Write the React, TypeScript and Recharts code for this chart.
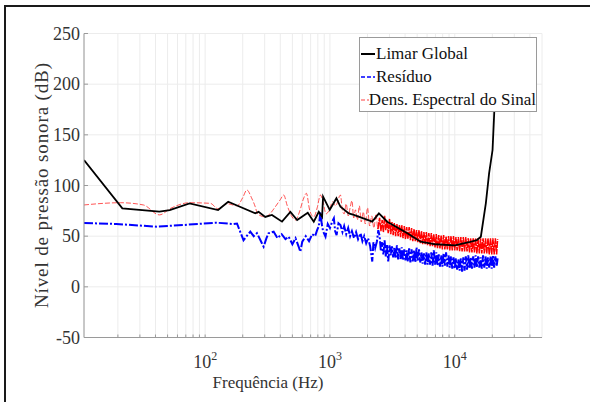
import React from 'react';
import { LineChart, Line, XAxis, YAxis, CartesianGrid } from 'recharts';

const FONT = '"Liberation Serif", "Times New Roman", serif';

// axis ticks (log x axis: only the decades get a label)
const xTicks = [20, 30, 40, 50, 60, 70, 80, 90, 100, 200, 300, 400, 500, 600, 700, 800, 900,
  1000, 2000, 3000, 4000, 5000, 6000, 7000, 8000, 9000, 10000, 20000, 30000, 40000];
const yTicks = [-50, 0, 50, 100, 150, 200, 250];
const decadeExp: Record<number, string> = { 100: '2', 1000: '3', 10000: '4' };

// Limar Global (black)
const limiarFreq = [10.7, 21.7, 43, 52, 75, 127, 153, 252, 268, 303, 343, 413, 482, 546, 664,
  742, 814, 865, 881, 996, 1127, 1214, 1416, 1552, 2183, 2467, 2879, 4168, 5330, 7000,
  10000, 13000, 15000, 16180, 17740, 18840, 20080, 20700, 22050];
const limiarDb = [125, 77.5, 74.2, 75.8, 82.4, 75.8, 84, 72.5, 74, 69, 71, 64.3, 74, 66, 73,
  64.3, 74, 69, 89, 76, 87.4, 79, 72.5, 71, 64.3, 72.5, 64.3, 52.8, 44.5, 42,
  41, 44, 46, 49.5, 82.4, 112, 135, 171, 236];

// Residuo (blue), low / mid frequencies
const residuoLowFreq = [10.7, 19.4, 40.6, 66.5, 123, 168, 180, 203, 215, 230, 245, 260, 280, 294, 310,
  322, 354, 380, 410, 440, 467, 500, 530, 560, 579, 600, 640, 680, 720, 760,
  789, 815, 839, 860, 880, 921, 960, 1000, 1040, 1075, 1100, 1130, 1170, 1214, 1260,
  1300, 1350, 1400, 1450, 1500, 1560, 1620, 1680, 1760, 1820, 1880, 1950, 2020, 2100, 2183,
  2230, 2300, 2380, 2440];
const residuoLowDb = [63, 62, 59.4, 61, 63.3, 62, 62.5, 46, 50, 54.4, 50, 53, 45, 39.6, 48,
  52.8, 54.4, 48, 52, 47, 49.5, 42, 48, 40, 34.7, 44.5, 50, 45, 52, 50,
  56, 60, 74, 62, 55, 49.5, 62, 58, 64, 67.6, 55, 51, 62.7, 61, 54,
  60, 52, 58, 50, 55, 48, 54, 47, 52.8, 45, 50, 43, 48, 40, 25,
  44, 38, 45, 56];

// Dens. Espectral do Sinal (red), low / mid frequencies
const densLowFreq = [10.7, 21, 32, 43, 53, 75, 110, 127, 150, 180, 200, 216, 235, 252, 262,
  280, 300, 330, 360, 400, 426, 455, 497, 530, 570, 610, 647, 690, 742, 790,
  839, 880, 930, 990, 1050, 1110, 1213, 1260, 1300, 1350, 1400, 1450, 1500, 1550, 1600,
  1660, 1720, 1780, 1850, 1920, 2000, 2080, 2160, 2250, 2340, 2420];
const densLowDb = [80.8, 83, 80.8, 71, 77.5, 83, 82.4, 77, 82, 80, 88, 95.6, 88, 79, 72.5,
  70, 69, 72, 78, 86, 90.6, 80, 69, 66, 74, 86, 92.3, 75, 69, 78,
  90.6, 84, 72, 76, 84, 80, 90.6, 75, 72, 82, 70, 78, 85, 68, 76,
  66, 80, 64, 74, 62, 78, 60, 70, 58, 72, 57];

// dense high-frequency part (both spectra swing fast between peaks and valleys)
const highFreq = [
  2500, 2560, 2620, 2680, 2740, 2800, 2860, 2930, 3000, 3070,
  3140, 3210, 3280, 3360, 3440, 3520, 3600, 3680, 3760, 3850,
  3940, 4030, 4120, 4210, 4310, 4410, 4510, 4610, 4720, 4830,
  4940, 5050, 5170, 5290, 5410, 5530, 5660, 5790, 5920, 6060,
  6200, 6340, 6490, 6640, 6790, 6950, 7110, 7270, 7440, 7610,
  7780, 7960, 8140, 8330, 8520, 8720, 8920, 9120, 9330, 9550,
  9770, 9990, 10220, 10450, 10690, 10940, 11190, 11450, 11710, 11980,
  12260, 12540, 12830, 13120, 13420, 13730, 14050, 14370, 14700, 15040,
  15390, 15740, 16100, 16470, 16850, 17240, 17640, 18040, 18460, 18880,
  19320, 19760, 20210, 20680, 21150, 21640, 22050];
const densHighDb = [
  68, 55, 66, 54, 70, 56, 65, 53, 67, 52,
  64, 51, 63, 50, 62, 50, 61, 49, 61, 48,
  60, 47, 59, 47, 59, 46, 58, 45, 57, 45,
  56, 44, 56, 43, 55, 42, 54, 42, 54, 41,
  53, 40, 53, 40, 52, 39, 52, 38, 51, 38,
  51, 37, 51, 37, 50, 37, 50, 36, 50, 36,
  50, 36, 49, 36, 49, 35, 49, 35, 49, 35,
  49, 35, 48, 34, 48, 34, 48, 34, 48, 33,
  48, 33, 48, 33, 48, 33, 48, 33, 48, 32,
  48, 32, 48, 32, 48, 32, 47];
const residuoHighDb = [
  50, 35, 44, 32, 46, 30, 42, 25, 41, 31,
  40, 29, 39, 28, 41, 27, 38, 27, 39, 26,
  37, 26, 36, 25, 38, 24, 37, 25, 36, 24,
  39, 25, 37, 24, 34, 23, 33, 22, 34, 22,
  33, 22, 34, 21, 36, 22, 34, 21, 32, 20,
  31, 20, 33, 21, 34, 20, 31, 19, 30, 18,
  29, 18, 28, 17, 27, 16, 28, 15, 29, 16,
  30, 17, 31, 18, 29, 18, 30, 19, 31, 19,
  30, 19, 29, 18, 31, 19, 30, 18, 29, 19,
  30, 18, 31, 19, 30, 20, 28];

const toRows = (freq: number[], db: number[]) => freq.map((f, i) => ({ f, db: db[i] }));

const limiarData = toRows(limiarFreq, limiarDb);
const residuoData = toRows([...residuoLowFreq, ...highFreq], [...residuoLowDb, ...residuoHighDb]);
const densLowRows = toRows(densLowFreq, densLowDb);
const densHighRows = toRows(highFreq, densHighDb);
// red is drawn in two pieces: thin sparse dashes at low f, heavier where the spectrum is dense
const densLowPart = [...densLowRows, densHighRows[0]];
const densHighPart = [densLowRows[densLowRows.length - 1], ...densHighRows];

const series = [
  { name: 'Limar Global', stroke: '#000000', dash: false, opacity: 1 },
  { name: 'Resíduo', stroke: '#0000ff', dash: true, opacity: 1 },
  { name: 'Dens. Espectral do Sinal', stroke: '#ff0000', dash: true, opacity: 0.5 },
];

const XTick = (props: any) => {
  const { x, payload } = props;
  const exp = decadeExp[payload.value];
  if (!exp) return <g />;
  return (
    <text x={x} y={368} textAnchor="middle" fontSize={18} fill="#333" fontFamily={FONT}>
      10<tspan dy={-8} fontSize={12}>{exp}</tspan>
    </text>
  );
};

const YTick = (props: any) => (
  <text x={80} y={props.y} dy="0.35em" textAnchor="end" fontSize={18} fill="#333" fontFamily={FONT}>
    {props.payload.value}
  </text>
);

const LegendBox = () => (
  <div style={{
    position: 'absolute', left: 359, top: 37, zIndex: 5,
    width: 176, height: 69, paddingTop: 4, background: '#fff', border: '1px solid #9a9a9a',
    fontFamily: FONT, fontSize: 17, color: '#111',
  }}>
    {series.map((s) => (
      <div key={s.name} style={{ height: 23, display: 'flex', alignItems: 'center', whiteSpace: 'nowrap' }}>
        <svg width={15} height={10} style={{ marginLeft: 1 }}>
          <line x1={0} y1={5} x2={14} y2={5} stroke={s.stroke} strokeWidth={s.dash ? 1.4 : 2}
            strokeDasharray={s.dash ? '4 2' : undefined} strokeOpacity={s.opacity} />
        </svg>
        <span>{s.name}</span>
      </div>
    ))}
  </div>
);

export default function App() {
  return (
    <div style={{ position: 'absolute', left: 0, top: 0, width: 590, height: 402, background: '#fff' }}>
      <div style={{
        position: 'absolute', left: 4, top: 5, width: 586, height: 397,
        borderTop: '2px solid #1a1a1a', borderLeft: '2px solid #1a1a1a',
      }} />
      <LineChart width={590} height={402} margin={{ top: 33.5, right: 48, bottom: 0, left: 0 }}>
        <CartesianGrid stroke="#ececec" />
        <XAxis dataKey="f" type="number" scale="log" domain={[10.7, 50000]} ticks={xTicks} interval={0}
          allowDataOverflow height={64.5} stroke="#9a9a9a" tickSize={-3} tickMargin={0} tick={<XTick />}
          label={(p: any) => (
            <text x={p.viewBox.x + 184} y={388} textAnchor="middle" fontSize={17} fill="#333" fontFamily={FONT}>
              Frequência (Hz)
            </text>
          )} />
        <XAxis xAxisId="top" orientation="top" mirror dataKey="f" type="number" scale="log"
          domain={[10.7, 50000]} ticks={xTicks} interval={0} allowDataOverflow height={0}
          stroke="#9a9a9a" tickSize={3} tick={false} />
        <YAxis type="number" domain={[-50, 250]} ticks={yTicks} interval={0} allowDataOverflow width={84}
          stroke="#9a9a9a" tickSize={-4} tickMargin={0} tick={<YTick />}
          label={(p: any) => {
            const cy = p.viewBox.y + p.viewBox.height / 2;
            return (
              <text x={48} y={cy} transform={`rotate(-90, 48, ${cy})`} textAnchor="middle" fontSize={19}
                textLength={245} lengthAdjust="spacing" fill="#333" fontFamily={FONT}>
                Nível de pressão sonora (dB)
              </text>
            );
          }} />
        <YAxis yAxisId="right" orientation="right" mirror type="number" domain={[-50, 250]} ticks={yTicks}
          interval={0} allowDataOverflow width={0} stroke="#9a9a9a" tickSize={4} tick={false} />
        <Line data={densLowPart} dataKey="db" name={series[2].name} type="monotone" stroke="#ff0000"
          strokeOpacity={0.75} strokeWidth={0.9} strokeDasharray="5 2" dot={false} activeDot={false}
          isAnimationActive={false} />
        <Line data={densHighPart} dataKey="db" name={series[2].name} stroke="#ff0000"
          strokeWidth={1.5} strokeDasharray="7 1" dot={false} activeDot={false}
          isAnimationActive={false} />
        <Line data={residuoData} dataKey="db" name={series[1].name} stroke="#0000ff" strokeWidth={2}
          strokeDasharray="9 2 2 2" dot={false} activeDot={false} isAnimationActive={false} />
        <Line data={limiarData} dataKey="db" name={series[0].name} stroke="#000000" strokeWidth={1.8}
          dot={false} activeDot={false} isAnimationActive={false} />
      </LineChart>
      <LegendBox />
    </div>
  );
}
